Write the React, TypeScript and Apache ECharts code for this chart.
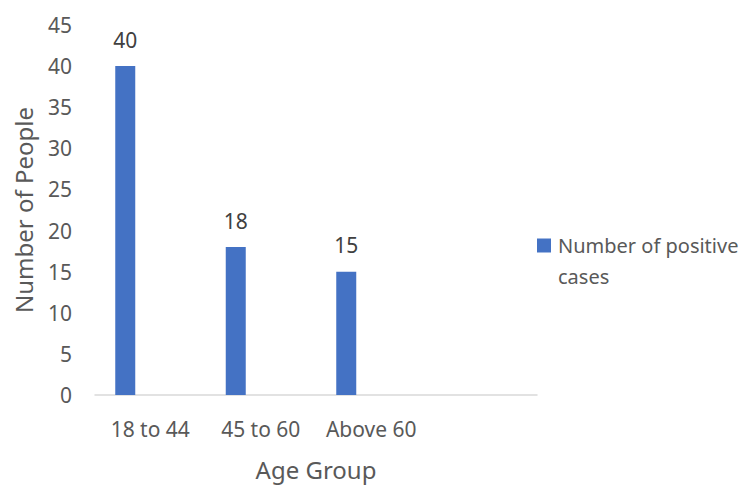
import React, { useEffect, useRef } from "react";
import * as echarts from "echarts";

const categories = ["18 to 44", "45 to 60", "Above 60", ""];
const positiveCases = [40, 18, 15, null];
const yTicks = { min: 0, max: 45, interval: 5 };
const seriesName = "Number of positive cases";
const legendLines = ["Number of positive", "cases"];

const FONT = "'Noto Sans', 'Open Sans', sans-serif";
const GREY = "#595959";
const BLUE = "#4472C4";

export default function App() {
  const ref = useRef<HTMLDivElement>(null);

  useEffect(() => {
    if (!ref.current) return;
    document.body.style.margin = "0";
    const chart = echarts.init(ref.current, null, { renderer: "svg" });
    chart.setOption({
      animation: false,
      backgroundColor: "#ffffff",
      textStyle: { fontFamily: FONT },
      grid: { left: 95, right: 214, top: 25, bottom: 89, containLabel: false },
      legend: {
        data: [seriesName],
        left: 532,
        top: 230,
        padding: 0,
        icon: "none",
        itemWidth: 0,
        itemGap: 0,
        formatter: () =>
          `{sq|}{gap|}{t|${legendLines[0]}}\n{ind|}{t|${legendLines[1]}}`,
        textStyle: {
          color: GREY,
          fontSize: 20,
          fontFamily: FONT,
          lineHeight: 31,
          rich: {
            sq: { width: 14, height: 14, backgroundColor: BLUE },
            gap: { width: 7 },
            ind: { width: 21 },
            t: { color: GREY, fontSize: 20, fontFamily: FONT, lineHeight: 31 },
          },
        },
      },
      xAxis: {
        type: "category",
        data: categories,
        name: "Age Group",
        nameLocation: "middle",
        nameGap: 62,
        nameTextStyle: { color: GREY, fontSize: 24, fontFamily: FONT },
        axisLine: { lineStyle: { color: "#d9d9d9", width: 1.5 } },
        axisTick: { show: false },
        axisLabel: {
          color: GREY,
          fontSize: 21,
          fontFamily: FONT,
          margin: 23,
          interval: 0,
          hideOverlap: false,
        },
      },
      yAxis: {
        type: "value",
        min: yTicks.min,
        max: yTicks.max,
        interval: yTicks.interval,
        name: "Number of People",
        nameLocation: "middle",
        nameGap: 60,
        nameTextStyle: { color: GREY, fontSize: 24, fontFamily: FONT },
        axisLine: { show: false },
        axisTick: { show: false },
        splitLine: { show: false },
        axisLabel: { color: GREY, fontSize: 21, fontFamily: FONT, margin: 23 },
      },
      series: [
        {
          name: seriesName,
          type: "bar",
          data: positiveCases,
          barWidth: 20,
          barGap: "150%",
          itemStyle: { color: BLUE },
          label: {
            show: true,
            position: "top",
            distance: 16,
            color: "#404040",
            fontSize: 21,
            fontFamily: FONT,
          },
        },
        {
          name: "spacer",
          type: "bar",
          data: categories.map(() => null),
          barWidth: 20,
          silent: true,
        },
      ],
    });
    return () => chart.dispose();
  }, []);

  return <div ref={ref} style={{ width: 751, height: 486 }} />;
}
